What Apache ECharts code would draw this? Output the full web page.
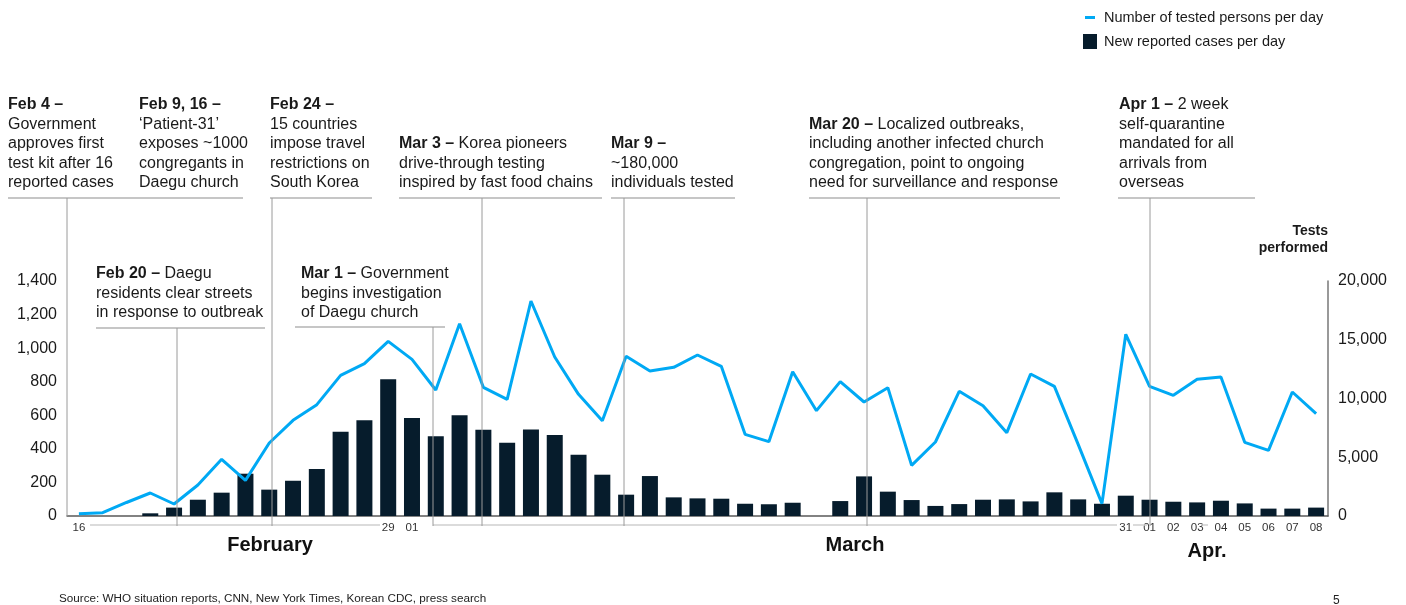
<!DOCTYPE html>
<html><head><meta charset="utf-8">
<script src="https://cdn.jsdelivr.net/npm/echarts@6/dist/echarts.min.js"></script>
<style>html,body{margin:0;padding:0;background:#fff}#c{width:1406px;height:605px}</style>
</head><body><div id="c"></div>
<script>
// ---------- DATA ----------
const categories = [
  'Feb 16','Feb 17','Feb 18','Feb 19','Feb 20','Feb 21','Feb 22','Feb 23','Feb 24','Feb 25','Feb 26','Feb 27','Feb 28','Feb 29',
  'Mar 01','Mar 02','Mar 03','Mar 04','Mar 05','Mar 06','Mar 07','Mar 08','Mar 09','Mar 10','Mar 11','Mar 12','Mar 13','Mar 14','Mar 15','Mar 16',
  'Mar 17','Mar 18','Mar 19','Mar 20','Mar 21','Mar 22','Mar 23','Mar 24','Mar 25','Mar 26','Mar 27','Mar 28','Mar 29','Mar 30','Mar 31',
  'Apr 01','Apr 02','Apr 03','Apr 04','Apr 05','Apr 06','Apr 07','Apr 08'
];
const tickLabelDates = ['Feb 16','Feb 29','Mar 01','Mar 31','Apr 01','Apr 02','Apr 03','Apr 04','Apr 05','Apr 06','Apr 07','Apr 08'];
const monthLabels = ['February','March','Apr.'];

// New reported cases per day (left axis)
const newCases = [
  null, null, null, 16, 50, 97, 139, 252, 157, 210, 280, 502, 570, 814,
  584, 475, 600, 514, 437, 516, 482, 365, 246, 127, 238, 111, 105, 103, 73, 70,
  79, null, 89, 236, 145, 95, 60, 71, 97, 99, 87, 141, 99, 73, 121,
  97, 85, 81, 91, 75, 44, 44, 50
];
// Number of tested persons per day (right axis)
const testedPersons = [
  200, 284, 1150, 1957, 1021, 2640, 4823, 3036, 6213, 8142, 9476, 11972, 12965, 14866,
  13334, 10724, 16370, 10951, 9930, 18299, 13532, 10355, 8114, 13589, 12341, 12653, 13703, 12738, 6951, 6327,
  12284, 8965, 11433, 9703, 10922, 4312, 6298, 10610, 9390, 7092, 12085, 11036, 6100, 1050, 15462,
  11036, 10270, 11632, 11830, 6270, 5589, 10554, 8710
];
const leftAxisTicks = [0, 200, 400, 600, 800, 1000, 1200, 1400];
const rightAxisTicks = [0, 5000, 10000, 15000, 20000];

const seriesNames = ['Number of tested persons per day', 'New reported cases per day'];

const annotationTexts = [
  {head: 'Feb 4 –', tail: '', lines: ['Government', 'approves first', 'test kit after 16', 'reported cases']},
  {head: 'Feb 9, 16 –', tail: '', lines: ['‘Patient-31’', 'exposes ~1000', 'congregants in', 'Daegu church']},
  {head: 'Feb 24 –', tail: '', lines: ['15 countries', 'impose travel', 'restrictions on', 'South Korea']},
  {head: 'Mar 3 –', tail: ' Korea pioneers', lines: ['drive-through testing', 'inspired by fast food chains']},
  {head: 'Mar 9 –', tail: '', lines: ['~180,000', 'individuals tested']},
  {head: 'Mar 20 –', tail: ' Localized outbreaks,', lines: ['including another infected church', 'congregation, point to ongoing', 'need for surveillance and response']},
  {head: 'Apr 1 –', tail: ' 2 week', lines: ['self-quarantine', 'mandated for all', 'arrivals from', 'overseas']},
  {head: 'Feb 20 –', tail: ' Daegu', lines: ['residents clear streets', 'in response to outbreak']},
  {head: 'Mar 1 –', tail: ' Government', lines: ['begins investigation', 'of Daegu church']}
];
const sourceText = 'Source: WHO situation reports, CNN, New York Times, Korean CDC, press search';
const pageNumber = '5';
const rightAxisTitle = 'Tests\nperformed';

// ---------- LAYOUT / STYLE ----------
const FONT = '"Liberation Sans", Arial, Helvetica, sans-serif';
const LINE_COLOR = '#00A9F4';
const BAR_COLOR = '#061C2C';
const TEXT = '#1a1a1a';
const annPos = [
  [8, 192.75], [139, 192.75], [270, 192.75], [399, 192.75], [611, 192.75], [809, 192.75], [1119, 192.75],
  [96, 322.75], [301, 322.5]
];
const underlines = [
  [8, 243, 198], [270, 372, 198], [399, 602, 198], [611, 735, 198], [809, 1060, 198], [1118, 1255, 198],
  [96, 265, 328], [295, 445, 327]
];
const connectors = [
  [67, 198, 516], [177, 328, 526], [272, 198, 526], [433, 327, 526], [482, 198, 526],
  [624, 198, 526], [867, 198, 526], [1150, 198, 526]
];
const brackets = [[90, 380], [433, 1117], [1133, 1147], [1202, 1208]];
const monthPos = [[270, 545], [855, 545], [1207, 551]];

const graphics = [];
annotationTexts.forEach((a, i) => {
  const txt = '{b|' + a.head + '}' + a.tail + '\n' + a.lines.join('\n');
  graphics.push({
    type: 'text', x: annPos[i][0], y: annPos[i][1], z: 10,
    style: {
      text: txt, fill: TEXT, fontSize: 16, fontFamily: FONT, lineHeight: 19.5,
      verticalAlign: 'bottom', align: 'left',
      rich: {b: {fontWeight: 'bold', fontSize: 16, fontFamily: FONT, lineHeight: 19.5, fill: TEXT}}
    }
  });
});
underlines.forEach(u => graphics.push({
  type: 'line', z: 10, shape: {x1: u[0], y1: u[2], x2: u[1], y2: u[2]},
  style: {stroke: '#b3b3b3', lineWidth: 1.5}
}));
connectors.forEach(c => graphics.push({
  type: 'line', z: 10, shape: {x1: c[0], y1: c[1], x2: c[0], y2: c[2]},
  style: {stroke: '#9a9a9a', lineWidth: 1}
}));
brackets.forEach(b => graphics.push({
  type: 'line', z: 9, shape: {x1: b[0], y1: 525, x2: b[1], y2: 525},
  style: {stroke: '#cfcfcf', lineWidth: 1.5}
}));
monthLabels.forEach((m, i) => graphics.push({
  type: 'text', x: monthPos[i][0], y: monthPos[i][1], z: 10,
  style: {text: m, fill: '#111', fontSize: 20, fontWeight: 'bold', fontFamily: FONT, align: 'center', verticalAlign: 'middle'}
}));
graphics.push({
  type: 'text', x: 59, y: 599, z: 10,
  style: {text: sourceText, fill: '#222', fontSize: 11.7, fontFamily: FONT, verticalAlign: 'middle'}
});
graphics.push({
  type: 'text', x: 1333, y: 601, z: 10,
  style: {text: pageNumber, fill: '#222', fontSize: 12, fontFamily: FONT, verticalAlign: 'middle'}
});

const fmt = v => Number(v).toLocaleString('en-US');
const showIdx = tickLabelDates.map(d => categories.indexOf(d));

const chart = echarts.init(document.getElementById('c'), null, {renderer: 'canvas'});
chart.setOption({
  backgroundColor: '#fff',
  animation: false,
  textStyle: {fontFamily: FONT},
  legend: [
    {
      data: [{name: seriesNames[0], icon: 'rect'}], left: 1080, top: 5, itemWidth: 10, itemHeight: 3,
      selectedMode: false, textStyle: {fontSize: 14.5, color: TEXT, fontFamily: FONT, padding: [0, 0, 0, 4]}
    },
    {
      data: [{name: seriesNames[1], icon: 'rect'}], left: 1078, top: 29, itemWidth: 14, itemHeight: 15,
      selectedMode: false, textStyle: {fontSize: 14.5, color: TEXT, fontFamily: FONT, padding: [0, 0, 0, 2]}
    }
  ],
  grid: {left: 67, right: 78, top: 281, bottom: 89, containLabel: false},
  xAxis: {
    type: 'category', data: categories, boundaryGap: true,
    axisLine: {show: true, lineStyle: {color: '#5a5a5a', width: 1.5}},
    axisTick: {show: false},
    axisLabel: {
      interval: (idx) => showIdx.indexOf(idx) >= 0,
      formatter: v => v.slice(4), fontSize: 11.5, color: '#333', margin: 6, fontFamily: FONT
    },
    splitLine: {show: false}
  },
  yAxis: [
    {
      type: 'value', min: leftAxisTicks[0], max: leftAxisTicks[leftAxisTicks.length - 1], interval: leftAxisTicks[1] - leftAxisTicks[0],
      axisLine: {show: false}, axisTick: {show: false}, splitLine: {show: false},
      axisLabel: {formatter: fmt, fontSize: 16, color: TEXT, margin: 10, fontFamily: FONT}
    },
    {
      type: 'value', position: 'right', min: rightAxisTicks[0], max: rightAxisTicks[rightAxisTicks.length - 1], interval: rightAxisTicks[1] - rightAxisTicks[0],
      axisLine: {show: true, lineStyle: {color: '#777', width: 1.5}}, axisTick: {show: false}, splitLine: {show: false},
      axisLabel: {formatter: fmt, fontSize: 16, color: TEXT, margin: 10, fontFamily: FONT},
      name: rightAxisTitle, nameLocation: 'end', nameGap: 24,
      nameTextStyle: {fontSize: 14, fontWeight: 'bold', color: TEXT, align: 'right', verticalAlign: 'bottom', lineHeight: 17, fontFamily: FONT}
    }
  ],
  series: [
    {
      name: seriesNames[1], type: 'bar', yAxisIndex: 0, data: newCases, barWidth: 16,
      itemStyle: {color: BAR_COLOR}, z: 2
    },
    {
      name: seriesNames[0], type: 'line', yAxisIndex: 1, data: testedPersons, showSymbol: false, symbol: 'none',
      lineStyle: {color: LINE_COLOR, width: 3}, itemStyle: {color: LINE_COLOR}, z: 3
    }
  ],
  graphic: graphics
});
</script></body></html>
